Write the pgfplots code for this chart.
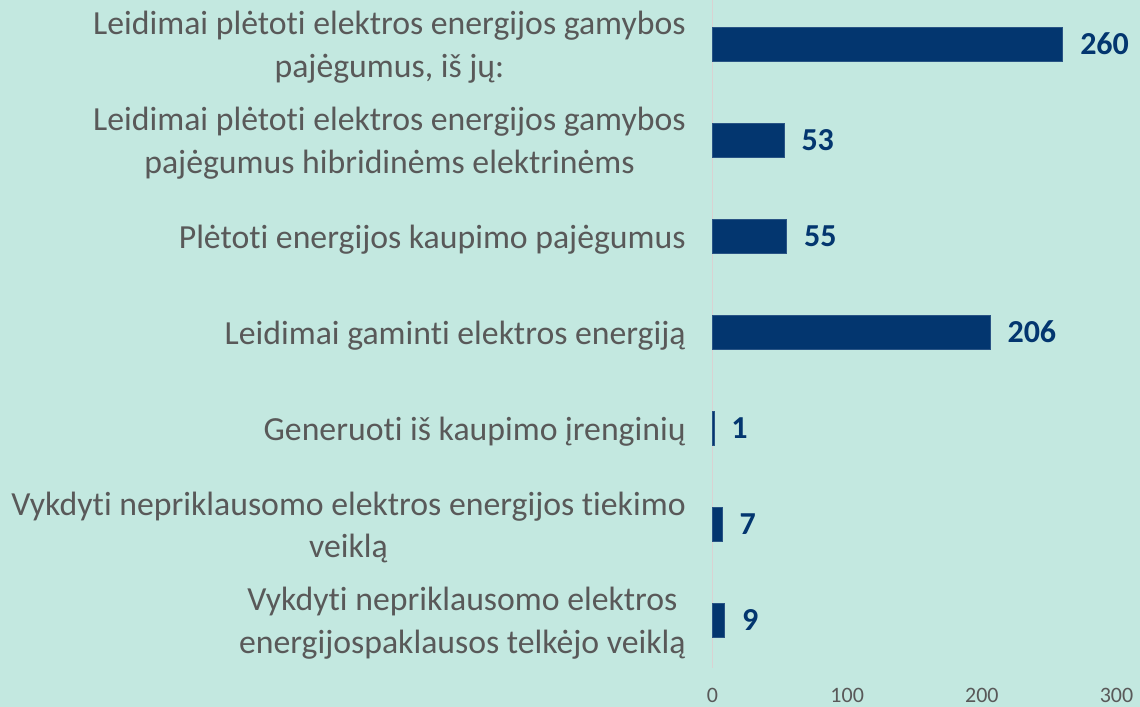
\documentclass[border=0pt]{standalone}
\usepackage{fontspec}
\setmainfont{Carlito}[Ligatures=NoCommon]
\usepackage{pgfplots}
\pgfplotsset{compat=1.18}
\definecolor{bg}{HTML}{C3E8E0}
\definecolor{navy}{HTML}{03366F}
\definecolor{txt}{HTML}{595959}
\definecolor{axisline}{HTML}{D9D2D2}

\begin{document}
\begin{tikzpicture}[x=0.75pt,y=0.75pt]
\fill[bg] (0,0) rectangle (1140,707);
\path[use as bounding box] (0,0) rectangle (1140,707);
\begin{axis}[
    at={(534.4pt,29.25pt)}, anchor=south west,
    scale only axis,
    width=303pt, height=501pt,
    xmin=0, xmax=300,
    ymin=0.5, ymax=7.46,
    xtick={0,100,200,300},
    ytick={1,...,7},
    yticklabels={
        {Vykdyti nepriklausomo elektros\\energijospaklausos telkėjo veiklą},
        {Vykdyti nepriklausomo elektros energijos tiekimo\\veiklą},
        {Generuoti iš kaupimo įrenginių},
        {Leidimai gaminti elektros energiją},
        {Plėtoti energijos kaupimo pajėgumus},
        {Leidimai plėtoti elektros energijos gamybos\\pajėgumus hibridinėms elektrinėms},
        {Leidimai plėtoti elektros energijos gamybos\\pajėgumus, iš jų:}
    },
    axis lines*=left,
    x axis line style={draw=none},
    y axis line style={draw=axisline, line width=1pt},
    tick style={draw=none},
    /pgf/number format/assume math mode=true,
    xticklabel style={font=\fontsize{16.5}{20}\selectfont, text=txt, inner sep=0pt, yshift=-15pt},
    yticklabel style={font=\fontsize{25.3}{32}\selectfont, text=txt, align=center, inner sep=0pt, xshift=-20pt, yshift=-2.5pt},
    clip=false,
]
\addplot[
    xbar,
    fill=navy,
    draw=navy!85!white,
    bar width=0.354,
    nodes near coords,
    nodes near coords style={anchor=west, inner sep=0pt, xshift=13pt,
        font=\fontsize{24}{28}\selectfont\bfseries, text=navy},
] coordinates {
    (9,1)
    (7,2)
    (1,3)
    (206,4)
    (55,5)
    (53,6)
    (260,7)
};
\end{axis}
\end{tikzpicture}
\end{document}
